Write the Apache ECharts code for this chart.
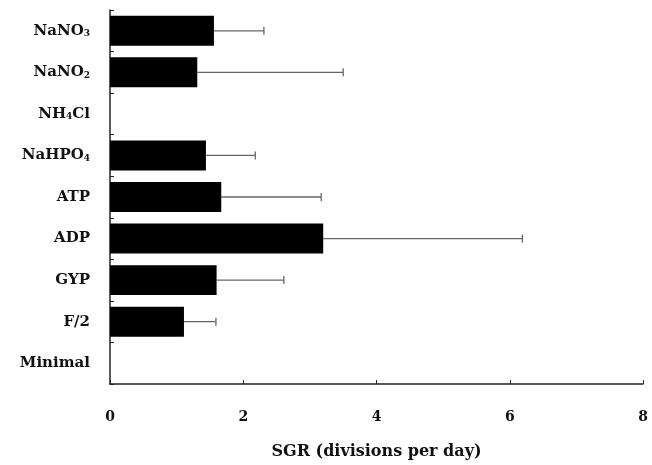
<!DOCTYPE html>
<html>
<head>
<meta charset="utf-8">
<script src="https://cdn.jsdelivr.net/npm/echarts@6/dist/echarts.min.js"></script>
<style>
    html, body { margin: 0; padding: 0; background: #fff; }
    #chart { width: 652px; height: 465px; }
</style>
</head>
<body>
<div id="chart"></div>
<script>
// 培养基 / 营养源
var categories = ['NaNO3', 'NaNO2', 'NH4Cl', 'NaHPO4', 'ATP', 'ADP', 'GYP', 'F/2', 'Minimal'];
// 平均比生长率 SGR
var sgrMean = [1.56, 1.31, 0, 1.44, 1.67, 3.2, 1.6, 1.11, 0];
// 标准差 (误差线长度)
var sgrSd = [0.75, 2.19, 0, 0.74, 1.5, 2.99, 1.01, 0.48, 0];
// x 轴刻度
var xTicks = [0, 2, 4, 6, 8];

// 带下标的标签
var labelText = {
    'NaNO3': 'NaNO{s|3}',
    'NaNO2': 'NaNO{s|2}',
    'NH4Cl': 'NH{s|4}Cl',
    'NaHPO4': 'NaHPO{s|4}'
};

var errData = categories.map(function (c, i) {
    return sgrSd[i] > 0 ? [i, sgrMean[i], sgrMean[i] + sgrSd[i]] : [i, null, null];
});

var chart = echarts.init(document.getElementById('chart'));
var font = '"DejaVu Serif", "Liberation Serif", serif';

var option = {
    animation: false,
    backgroundColor: '#fff',
    grid: { left: 110, right: 9, top: 10, bottom: 80 },
    xAxis: {
        type: 'value',
        min: xTicks[0],
        max: xTicks[xTicks.length - 1],
        interval: 2,
        name: 'SGR (divisions per day)',
        nameLocation: 'middle',
        nameGap: 60,
        nameTextStyle: { fontFamily: font, fontWeight: 'bold', fontSize: 16, color: '#111' },
        axisLine: { show: true, lineStyle: { color: '#222', width: 1.5 } },
        axisTick: { show: true, inside: true, length: 4, lineStyle: { color: '#222' } },
        axisLabel: { margin: 26, fontFamily: font, fontWeight: 'bold', fontSize: 14, color: '#111' },
        splitLine: { show: false }
    },
    yAxis: {
        type: 'category',
        data: categories,
        inverse: true,
        axisLine: { show: true, lineStyle: { color: '#222', width: 1.5 } },
        axisTick: { show: true, inside: true, length: 4, lineStyle: { color: '#222' } },
        axisLabel: {
            margin: 20,
            color: '#111',
            fontFamily: font,
            fontWeight: 'bold',
            fontSize: 15,
            formatter: function (v) { return labelText[v] || v; },
            rich: {
                s: { fontFamily: font, fontWeight: 'bold', fontSize: 9, color: '#111', verticalAlign: 'bottom', padding: [6, 0, 0, 0] }
            }
        }
    },
    series: [
        {
            name: 'SGR',
            type: 'bar',
            data: sgrMean,
            barWidth: '72%',
            itemStyle: { color: '#000' }
        },
        {
            name: 'SD',
            type: 'custom',
            data: errData,
            z: 1,
            renderItem: function (params, api) {
                if (api.value(1) == null) return;
                var yIdx = api.value(0);
                var p0 = api.coord([api.value(1), yIdx]);
                var p1 = api.coord([api.value(2), yIdx]);
                var cap = 4;
                var style = { stroke: '#666', lineWidth: 1.3 };
                return {
                    type: 'group',
                    children: [
                        { type: 'line', shape: { x1: p0[0], y1: p0[1], x2: p1[0], y2: p1[1] }, style: style },
                        { type: 'line', shape: { x1: p1[0], y1: p1[1] - cap, x2: p1[0], y2: p1[1] + cap }, style: style }
                    ]
                };
            }
        }
    ]
};

chart.setOption(option);
</script>
</body>
</html>
